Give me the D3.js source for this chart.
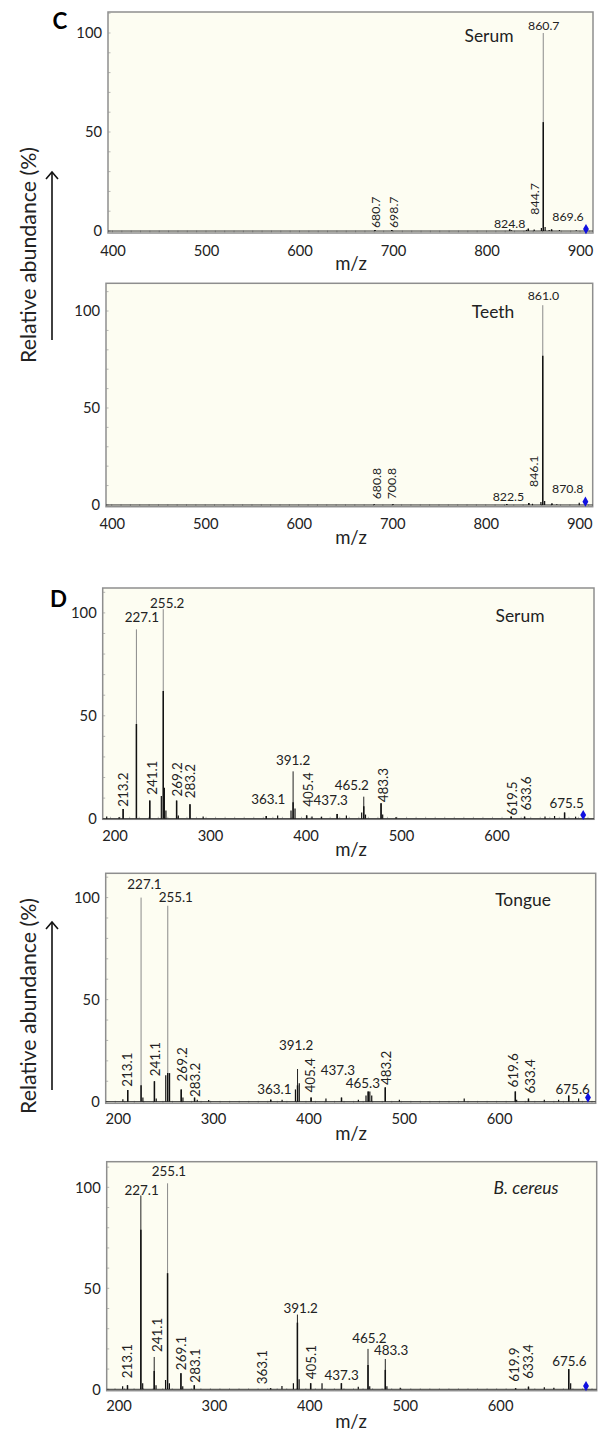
<!DOCTYPE html>
<html>
<head>
<meta charset="utf-8">
<script src="https://cdn.jsdelivr.net/npm/d3@7"></script>
<style>
  body { margin: 0; background: #fff; }
  svg { display: block; }
</style>
</head>
<body>
<div id="chart"></div>
<script>
// ---- tick values ----
const cTicks = [400, 500, 600, 700, 800, 900]
const dTicks = [200, 300, 400, 500, 600]
const yTicks = [0, 50, 100]

// ---- C / Serum ----
const cSerumMz = [680.7, 698.7, 824.8, 844.7, 860.7, 869.6]
const cSerumInt = [0.5, 0.5, 0.8, 1.2, 100, 0.8]
const cSerumBody = [0.5, 0.5, 0.8, 1.2, 55, 0.8]
const cSerumMinor = [[826.8, 0.4], [842.7, 0.6], [851, 0.8], [858.7, 1.5], [862.7, 2], [867, 0.5], [878, 0.5], [896, 0.4]]
const cSerumDiamond = [906.4, 1.0]

// ---- C / Teeth ----
const cTeethMz = [680.8, 700.8, 822.5, 846.1, 861.0, 870.8]
const cTeethInt = [0.3, 0.3, 0.5, 1, 103, 0.8]
const cTeethBody = [0.3, 0.3, 0.5, 1, 77, 0.8]
const cTeethMinor = [[850, 0.6], [859, 1.5], [863, 2], [876, 0.4], [900, 1.2]]
const cTeethDiamond = [906.6, 1.7]

// ---- D / Serum ----
const dSerumMz = [213.2, 227.1, 241.1, 255.2, 269.2, 283.2, 363.1, 391.2, 405.4, 437.3, 465.2, 483.3, 619.5, 633.6, 675.5]
const dSerumInt = [4.7, 92, 8.8, 101.8, 8.8, 7, 1.3, 23, 1.6, 2.3, 10.7, 7.5, 1, 1, 3]
const dSerumBody = [4.7, 46, 8.8, 62, 8.8, 7, 1.3, 8, 1.6, 2.3, 6, 7.5, 1, 1, 3]
const dSerumMinor = [[196, 1], [209, 0.8], [253.2, 11], [256.4, 15], [258, 4], [271, 1.5], [297, 1], [375, 1.5],
  [389, 4], [393.2, 5], [411, 1], [421, 1], [447, 1.5], [463, 3], [467, 2], [485, 2], [499, 0.8], [655, 1], [665, 1.3], [687, 1]]
const dSerumDiamond = [695, 1.8]

// ---- D / Tongue ----
const dTongueMz = [213.1, 227.1, 241.1, 255.1, 269.2, 283.2, 363.1, 391.2, 405.4, 437.3, 465.3, 483.2, 619.6, 633.4, 675.6]
const dTongueInt = [5.7, 100, 10, 96, 6, 2, 1, 16, 2, 2, 5, 7, 5, 1.5, 3]
const dTongueBody = [5.7, 8, 10, 14, 6, 2, 1, 8, 2, 2, 5, 7, 5, 1.5, 3]
const dTongueMinor = [[208, 1.2], [229, 2], [243, 1.5], [253, 13], [257, 14], [271, 2], [286, 1], [298, 0.8], [375, 1],
  [389, 6], [393, 9], [421, 1.5], [455, 1], [463, 3], [467, 5], [469, 3], [498, 1], [566, 1.5], [621, 1], [650, 1], [665, 1], [686, 1.5]]
const dTongueDiamond = [695.8, 2]

// ---- D / B. cereus ----
const dCereusMz = [213.1, 227.1, 241.1, 255.1, 269.1, 283.1, 363.1, 391.2, 405.1, 437.3, 465.2, 483.3, 619.9, 633.4, 675.6]
const dCereusInt = [2, 96, 16, 102, 8, 2, 0.5, 37, 3, 3, 20, 15, 0.5, 1.3, 10]
const dCereusBody = [2, 79, 9, 57.5, 8, 2, 0.5, 33, 3, 3, 12, 9.6, 0.5, 1.3, 10]
const dCereusMinor = [[208, 1.5], [229, 3], [243, 2], [253, 4.6], [257, 3], [271, 1.5], [375, 1.6], [387, 3], [393, 5],
  [417, 3], [455, 1.2], [467, 1.5], [485, 1.5], [499, 0.8], [650, 1], [660, 0.8], [677.6, 3]]
const dCereusDiamond = [693.7, 1.6]

// label placement: [orientation, dx px, gap px above peak]
const cSerumLab = [["v", 1, 2], ["v", 1.5, 2], ["h", 0, 1.3], ["v", 6, 14], ["h", 0.5, 3.3], ["h", 16.4, 8]]
const cTeethLab = [["v", 1.8, 5], ["v", -1.3, 5], ["h", 1.6, 3.3], ["v", 4.5, 16], ["h", 0.6, 5.6], ["h", 15.8, 10]]
const dSerumLab = [["v", 0, 2.3], ["h", 5.4, 7], ["v", 2, 5.7], ["h", 4, 1], ["v", 0.7, 4], ["v", 0, 6], ["h", 2, 12],
  ["h", 0, 6], ["v", 1.6, 8.7], ["h", -6.4, 9], ["h", -12, 7], ["v", 1.7, 1], ["v", 0.6, 1], ["v", 2, 6], ["h", 2, 4.7]]
const dTongueLab = [["v", -0.8, 3.3], ["h", 3.4, 9], ["v", 0.8, 5], ["h", 8, 4], ["v", 0.6, 8], ["v", 0.6, 0.5], ["h", 3.7, 5.7],
  ["h", -1.4, 19], ["v", -0.5, 5], ["h", -3.7, 23], ["h", -5.4, 3], ["v", 0.5, 2.4], ["v", -2.6, 4], ["v", 1.5, 5], ["h", 4, 1.6]]
const dCereusLab = [["v", 0, 7], ["h", 0.8, 0.7], ["v", 2.5, 5], ["h", 1.4, 7], ["v", 0.5, 3], ["v", 0.8, 2.6], ["v", -8, 4],
  ["h", 3.3, 1.6], ["v", 0.2, 4], ["h", 0.3, 2.8], ["h", 1.3, 6], ["h", 5.8, 4.3], ["v", -1.6, 6.6], ["v", -0.8, 8], ["h", 0.6, 2.7]]

const FONT = "Lato, 'Open Sans', sans-serif"

const svg = d3.select("#chart").append("svg")
  .attr("width", 605)
  .attr("height", 1433)
  .style("font-family", FONT)

// font size that makes a sample string reach a given width
function fitSize(sample, width, opts) {
  const t = svg.append("text").attr("font-size", 20).text(sample)
  if (opts && opts.bold) t.attr("font-weight", "bold")
  if (opts && opts.italic) t.attr("font-style", "italic")
  const len = t.node().getComputedTextLength()
  t.remove()
  return 20 * width / len
}

const sizeLabC = fitSize("824.8", 31.5)
const sizeLabD = fitSize("227.1", 34.3)
const sizeTick = fitSize("200", 25.7)
const sizeTitle = fitSize("Tongue", 55.7)
const sizeMz = fitSize("m/z", 31.7)
const sizeLetter = fitSize("D", 17, { bold: true })

const panels = [
  { title: "Serum", mz: cSerumMz, inten: cSerumInt, body: cSerumBody, minor: cSerumMinor, lab: cSerumLab, diamond: cSerumDiamond,
    box: [108, 12, 593, 233], xDom: [395.2, 913.9], yDom: [-1, 110.6], xTicks: cTicks, labSize: sizeLabC, titleAt: [489, 35], tickPad: 12.5, tickDx: 0 },
  { title: "Teeth", mz: cTeethMz, inten: cTeethInt, body: cTeethBody, minor: cTeethMinor, lab: cTeethLab, diamond: cTeethDiamond,
    box: [106, 283.3, 592.7, 506.7], xDom: [393.9, 914.4], yDom: [-0.9, 114.3], xTicks: cTicks, labSize: sizeLabC, titleAt: [493, 311], tickPad: 12, tickDx: 0 },
  { title: "Serum", mz: dSerumMz, inten: dSerumInt, body: dSerumBody, minor: dSerumMinor, lab: dSerumLab, diamond: dSerumDiamond,
    box: [102.7, 588, 594, 819.3], xDom: [191.8, 706.3], yDom: [-0.3, 112.1], xTicks: dTicks, labSize: sizeLabD, titleAt: [520, 615], tickPad: 11, tickDx: 4 },
  { title: "Tongue", mz: dTongueMz, inten: dTongueInt, body: dTongueBody, minor: dTongueMinor, lab: dTongueLab, diamond: dTongueDiamond,
    box: [105.7, 873.3, 595.7, 1103.3], xDom: [190.0, 703.9], yDom: [-0.8, 111.9], xTicks: dTicks, labSize: sizeLabD, titleAt: [523, 899], tickPad: 10.5, tickDx: 2.5 },
  { title: "B. cereus", italic: true, mz: dCereusMz, inten: dCereusInt, body: dCereusBody, minor: dCereusMinor, lab: dCereusLab, diamond: dCereusDiamond,
    box: [106.7, 1161.7, 596.7, 1390.7], xDom: [191.3, 704.9], yDom: [-0.7, 112.7], xTicks: dTicks, labSize: sizeLabD, titleAt: [526, 1187], tickPad: 10, tickDx: 3.5 },
]

function drawPanel(p) {
  const [x0, y0, x1, y1] = p.box
  const x = d3.scaleLinear().domain(p.xDom).range([x0, x1])
  const y = d3.scaleLinear().domain(p.yDom).range([y1, y0])
  const g = svg.append("g")

  // plot area
  g.append("rect")
    .attr("x", x0).attr("y", y0)
    .attr("width", x1 - x0).attr("height", y1 - y0)
    .attr("fill", "#fdfdf2")
    .attr("stroke", "#8e8e8e")
    .attr("stroke-width", 1.5)

  // minor ticks pointing inward
  const xMinor = d3.range(Math.ceil(p.xDom[0] / 10) * 10, p.xDom[1], 10)
  g.append("g").selectAll("line").data(xMinor).join("line")
    .attr("x1", d => x(d)).attr("x2", d => x(d))
    .attr("y1", y1).attr("y2", y1 - 2.5)
    .attr("stroke", "#999").attr("stroke-width", 0.7)
  const yMinor = d3.range(0, p.yDom[1], 10)
  g.append("g").selectAll("line").data(yMinor).join("line")
    .attr("x1", x0).attr("x2", x0 + 2.5)
    .attr("y1", d => y(d)).attr("y2", d => y(d))
    .attr("stroke", "#999").attr("stroke-width", 0.7)

  // spectrum baseline
  g.append("line")
    .attr("x1", x(p.xDom[0])).attr("x2", x(p.xDom[1]))
    .attr("y1", y(0)).attr("y2", y(0))
    .attr("stroke", "#333").attr("stroke-width", 1)

  // small unlabelled peaks
  g.append("g").selectAll("line").data(p.minor).join("line")
    .attr("x1", d => x(d[0])).attr("x2", d => x(d[0]))
    .attr("y1", y(0)).attr("y2", d => y(d[1]))
    .attr("stroke", "#111").attr("stroke-width", 1.2)

  const peaks = p.mz.map((m, i) => ({ mz: m, v: p.inten[i], body: p.body[i], lab: p.lab[i] }))

  // thin apex of each peak
  g.append("g").selectAll("line").data(peaks).join("line")
    .attr("x1", d => x(d.mz)).attr("x2", d => x(d.mz))
    .attr("y1", y(0)).attr("y2", d => y(d.v))
    .attr("stroke", d => (d.v - d.body > 20 ? "#8a8a8a" : "#222"))
    .attr("stroke-width", 1)

  // thicker lower part of each peak
  g.append("g").selectAll("line").data(peaks).join("line")
    .attr("x1", d => x(d.mz)).attr("x2", d => x(d.mz))
    .attr("y1", y(0)).attr("y2", d => y(d.body))
    .attr("stroke", "#111")
    .attr("stroke-width", 1.5)

  // peak labels
  const labs = g.append("g")
    .attr("font-size", p.labSize)
    .attr("fill", "#222")
  peaks.forEach(d => {
    const [mode, dx, gap] = d.lab
    const px = x(d.mz) + dx
    const py = y(d.v) - gap
    if (mode === "v") {
      labs.append("text")
        .attr("transform", "translate(" + px + "," + py + ") rotate(-90)")
        .attr("dy", "0.36em")
        .attr("text-anchor", "start")
        .text(d.mz.toFixed(1))
    } else {
      labs.append("text")
        .attr("x", px).attr("y", py)
        .attr("text-anchor", "middle")
        .text(d.mz.toFixed(1))
    }
  })

  // precursor marker
  g.append("path")
    .attr("d", d3.symbol(d3.symbolDiamond, 30)())
    .attr("transform", "translate(" + x(p.diamond[0]) + "," + y(p.diamond[1]) + ")")
    .attr("fill", "#1010e0")

  // sample name
  g.append("text")
    .attr("x", p.titleAt[0]).attr("y", p.titleAt[1])
    .attr("text-anchor", "middle")
    .attr("dominant-baseline", "central")
    .attr("font-size", sizeTitle)
    .attr("font-style", p.italic ? "italic" : "normal")
    .attr("fill", "#222")
    .text(p.title)

  // axes
  const xAxis = g.append("g")
    .attr("transform", "translate(0," + y1 + ")")
    .call(d3.axisBottom(x).tickValues(p.xTicks).tickSize(0).tickPadding(p.tickPad))
  const yAxis = g.append("g")
    .attr("transform", "translate(" + x0 + ",0)")
    .call(d3.axisLeft(y).tickValues(yTicks).tickSize(0).tickPadding(6))
  ;[xAxis, yAxis].forEach(a => {
    a.select(".domain").remove()
    a.attr("font-family", FONT).attr("font-size", sizeTick)
    a.selectAll("text").attr("fill", "#222")
  })
  xAxis.selectAll("text").attr("dx", p.tickDx)

  g.append("text")
    .attr("x", 351).attr("y", y1 + 30)
    .attr("text-anchor", "middle")
    .attr("dominant-baseline", "central")
    .attr("font-size", sizeMz)
    .attr("fill", "#222")
    .text("m/z")
}

panels.forEach(drawPanel)

// panel letters
svg.append("text").attr("x", 60).attr("y", 20)
  .attr("text-anchor", "middle").attr("dominant-baseline", "central")
  .attr("font-size", sizeLetter).attr("font-weight", "bold").text("C")
svg.append("text").attr("x", 58.5).attr("y", 598)
  .attr("text-anchor", "middle").attr("dominant-baseline", "central")
  .attr("font-size", sizeLetter).attr("font-weight", "bold").text("D")

// y-axis titles with arrows
const yTitles = [{ cy: 255, a0: 340, a1: 172 }, { cy: 1006, a0: 1090, a1: 922 }]
yTitles.forEach(t => {
  svg.append("text")
    .attr("transform", "translate(28," + t.cy + ") rotate(-90)")
    .attr("text-anchor", "middle")
    .attr("dominant-baseline", "central")
    .attr("font-size", fitSize("Relative abundance (%)", 216))
    .attr("fill", "#222")
    .text("Relative abundance (%)")

  svg.append("line")
    .attr("x1", 52).attr("x2", 52)
    .attr("y1", t.a0).attr("y2", t.a1)
    .attr("stroke", "#111").attr("stroke-width", 1.6)
  svg.append("path")
    .attr("d", "M46," + (t.a1 + 7) + "L52," + t.a1 + "L58," + (t.a1 + 7))
    .attr("fill", "none").attr("stroke", "#111").attr("stroke-width", 1.6)
})
</script>
</body>
</html>
